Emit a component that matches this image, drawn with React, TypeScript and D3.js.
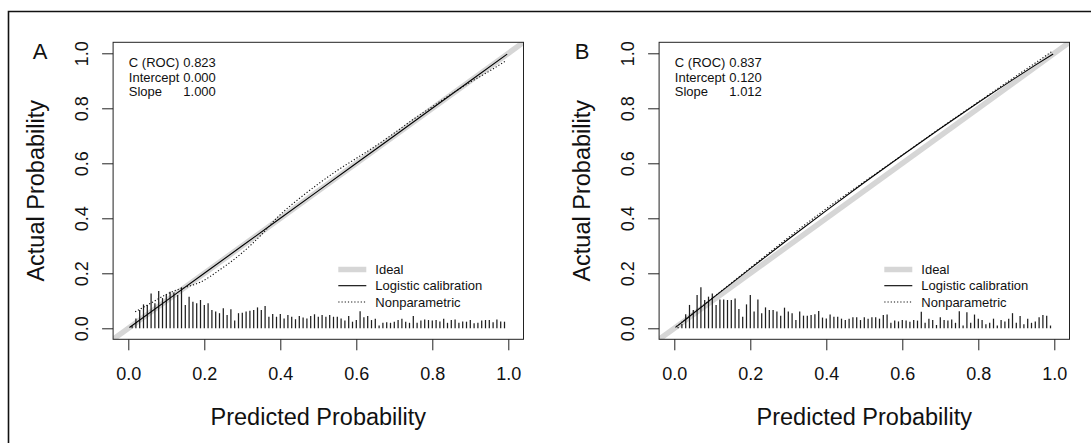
import React, { useEffect, useRef } from "react";
import * as d3 from "d3";

// axis ticks and text
const tickValues = [0, 0.2, 0.4, 0.6, 0.8, 1.0];
const panelLabels = ["A", "B"];
const statNames = ["C (ROC)", "Intercept", "Slope"];
const statsA = ["0.823", "0.000", "1.000"];
const statsB = ["0.837", "0.120", "1.012"];
const legendNames = ["Ideal", "Logistic calibration", "Nonparametric"];

// logistic calibration curves (predicted -> actual)
const logisticAX = [0.003, 0.2, 0.4, 0.6, 0.8, 0.997];
const logisticAY = [0.003, 0.2, 0.4, 0.6, 0.8, 0.997];
const logisticBX = [0.003, 0.01, 0.05, 0.1, 0.2, 0.3, 0.4, 0.5, 0.6, 0.7, 0.8, 0.9, 0.95, 0.997];
const logisticBY = [0.0032, 0.0107, 0.0542, 0.1087, 0.217, 0.3236, 0.428, 0.53, 0.6295, 0.7265, 0.821, 0.9124, 0.9569, 0.9975];

// nonparametric (loess) curves
const npAX = [0.018, 0.06, 0.1, 0.13, 0.155, 0.19, 0.24, 0.3, 0.35, 0.39, 0.45, 0.5, 0.55, 0.6, 0.64, 0.7, 0.75, 0.8, 0.85, 0.9, 0.95, 0.995];
const npAY = [0.06, 0.092, 0.123, 0.141, 0.151, 0.168, 0.212, 0.275, 0.34, 0.4, 0.472, 0.525, 0.574, 0.618, 0.653, 0.71, 0.76, 0.806, 0.852, 0.895, 0.935, 0.974];
const npBX = [0.005, 0.05, 0.1, 0.2, 0.3, 0.4, 0.5, 0.6, 0.7, 0.8, 0.9, 0.95, 0.993];
const npBY = [0.006, 0.055, 0.11, 0.22, 0.33, 0.435, 0.533, 0.63, 0.728, 0.823, 0.918, 0.965, 1.006];

// spike histogram of predictions, bins 0.01 .. 0.99
const spikeBins = d3.range(1, 100).map((i) => i / 100);
const spikesA = [
  0.008, 0.036, 0.067, 0.087, 0.085, 0.127, 0.091, 0.136, 0.11, 0.124,
  0.133, 0.13, 0.121, 0.149, 0.085, 0.115, 0.097, 0.091, 0.103, 0.085,
  0.091, 0.067, 0.061, 0.055, 0.073, 0.048, 0.069, 0.028, 0.055, 0.057,
  0.061, 0.064, 0.067, 0.076, 0.067, 0.081, 0.042, 0.052, 0.042, 0.052,
  0.036, 0.048, 0.042, 0.033, 0.045, 0.039, 0.036, 0.045, 0.051, 0.042,
  0.048, 0.042, 0.048, 0.042, 0.042, 0.036, 0.028, 0.045, 0.024, 0.03,
  0.062, 0.04, 0.045, 0.03, 0.035, 0.01, 0.02, 0.022, 0.02, 0.024,
  0.03, 0.035, 0.024, 0.02, 0.045, 0.02, 0.028, 0.032, 0.03, 0.028,
  0.03, 0.025, 0.035, 0.02, 0.03, 0.032, 0.02, 0.025, 0.024, 0.03,
  0.018, 0.02, 0.028, 0.03, 0.03, 0.022, 0.032, 0.025, 0.024,
];
const spikesB = [
  0.005, 0.016, 0.051, 0.085, 0.067, 0.121, 0.149, 0.103, 0.115, 0.127,
  0.085, 0.105, 0.105, 0.103, 0.103, 0.108, 0.07, 0.042, 0.087, 0.121,
  0.061, 0.105, 0.055, 0.076, 0.067, 0.067, 0.061, 0.046, 0.075, 0.061,
  0.055, 0.03, 0.061, 0.046, 0.046, 0.048, 0.051, 0.063, 0.039, 0.036,
  0.05, 0.042, 0.042, 0.035, 0.03, 0.035, 0.04, 0.04, 0.03, 0.04,
  0.035, 0.04, 0.04, 0.035, 0.048, 0.05, 0.02, 0.028, 0.025, 0.03,
  0.028, 0.024, 0.03, 0.028, 0.06, 0.02, 0.035, 0.03, 0.012, 0.04,
  0.03, 0.028, 0.032, 0.02, 0.062, 0.01, 0.058, 0.02, 0.05, 0.035,
  0.03, 0.015, 0.02, 0.035, 0.01, 0.03, 0.025, 0.035, 0.055, 0.02,
  0.045, 0.015, 0.035, 0.02, 0.025, 0.04, 0.048, 0.046, 0.01,
];

const FONT = "'Liberation Sans', Arial, Helvetica, sans-serif";
const width = 1091;
const height = 443;

const panels = [
  { shift: 0, letterX: 40, label: panelLabels[0], stats: statsA, spikes: spikesA, lx: logisticAX, ly: logisticAY, nx: npAX, ny: npAY },
  { shift: 546, letterX: 582, label: panelLabels[1], stats: statsB, spikes: spikesB, lx: logisticBX, ly: logisticBY, nx: npBX, ny: npBY },
];

const App = () => {
  const ref = useRef<SVGSVGElement | null>(null);

  useEffect(() => {
    const svg = d3.select(ref.current);
    svg.selectAll("*").remove();

    // outer frame
    svg
      .append("path")
      .attr("d", `M8.5,${height + 5} V11.5 H${width + 5}`)
      .attr("fill", "none")
      .attr("stroke", "#111")
      .attr("stroke-width", 1.6);

    panels.forEach((p, pi) => {
      const x = d3.scaleLinear().domain([0, 1]).range([128.3 + p.shift, 508.3 + p.shift]);
      const y = d3.scaleLinear().domain([0, 1]).range([328.3, 53.3]);
      const g = svg.append("g");

      const clipId = `clip-${pi}`;
      g.append("clipPath")
        .attr("id", clipId)
        .append("rect")
        .attr("x", x(-0.04))
        .attr("y", y(1.04))
        .attr("width", x(1.04) - x(-0.04))
        .attr("height", y(-0.04) - y(1.04));

      // ideal line
      g.append("line")
        .attr("clip-path", `url(#${clipId})`)
        .attr("x1", x(-0.04))
        .attr("y1", y(-0.04))
        .attr("x2", x(1.04))
        .attr("y2", y(1.04))
        .attr("stroke", "#d6d6d6")
        .attr("stroke-width", 5.5);

      // spikes
      g.selectAll(".spike")
        .data(spikeBins)
        .enter()
        .append("line")
        .attr("class", "spike")
        .attr("x1", (d) => x(d))
        .attr("x2", (d) => x(d))
        .attr("y1", y(0))
        .attr("y2", (d, i) => y(p.spikes[i]))
        .attr("stroke", "#1e1e1e")
        .attr("stroke-width", 1.25);

      const line = d3
        .line<number>()
        .x((d) => d[0])
        .y((d) => d[1])
        .curve(d3.curveMonotoneX);

      const logPts = p.lx.map((v, i) => [x(v), y(p.ly[i])]);
      const npPts = p.nx.map((v, i) => [x(v), y(p.ny[i])]);

      g.append("path")
        .attr("d", line(logPts as any))
        .attr("fill", "none")
        .attr("stroke", "#000")
        .attr("stroke-width", 1.1);

      g.append("path")
        .attr("d", line(npPts as any))
        .attr("fill", "none")
        .attr("stroke", "#111")
        .attr("stroke-width", 1.1)
        .attr("stroke-dasharray", "1.2,2");

      // plot box
      g.append("rect")
        .attr("x", x(-0.04))
        .attr("y", y(1.04))
        .attr("width", x(1.04) - x(-0.04))
        .attr("height", y(-0.04) - y(1.04))
        .attr("fill", "none")
        .attr("stroke", "#222")
        .attr("stroke-width", 1);

      // x axis
      const xAxis = d3.axisBottom(x).tickValues(tickValues).tickSize(11).tickFormat(d3.format(".1f"));
      const xg = g
        .append("g")
        .attr("transform", `translate(0,${y(-0.04)})`)
        .call(xAxis)
        .attr("font-size", 18)
        .attr("font-family", FONT);
      xg.select(".domain").remove();
      xg.selectAll(".tick line").attr("stroke", "#222");
      xg.selectAll(".tick text").attr("fill", "#111").attr("y", 34).attr("dy", "0.35em");

      // y axis
      const yAxis = d3.axisLeft(y).tickValues(tickValues).tickSize(11).tickFormat(d3.format(".1f"));
      const yg = g
        .append("g")
        .attr("transform", `translate(${x(-0.04)},0)`)
        .call(yAxis)
        .attr("font-size", 18)
        .attr("font-family", FONT);
      yg.select(".domain").remove();
      yg.selectAll(".tick line").attr("stroke", "#222");
      yg.selectAll(".tick text")
        .attr("fill", "#111")
        .attr("x", 0)
        .attr("y", 0)
        .attr("dy", "0.35em")
        .attr("text-anchor", "middle")
        .attr("transform", "translate(-31,0) rotate(-90)");

      // axis titles
      g.append("text")
        .attr("x", x(0.5))
        .attr("y", 417)
        .attr("dy", "0.35em")
        .attr("text-anchor", "middle")
        .attr("font-family", FONT)
        .attr("font-size", 23.5)
        .attr("fill", "#111")
        .text("Predicted Probability");

      g.append("text")
        .attr("transform", `translate(${35.7 + p.shift},${y(0.5)}) rotate(-90)`)
        .attr("dy", "0.35em")
        .attr("text-anchor", "middle")
        .attr("font-family", FONT)
        .attr("font-size", 23.5)
        .attr("fill", "#111")
        .text("Actual Probability");

      // panel letter
      g.append("text")
        .attr("x", p.letterX)
        .attr("y", 51.7)
        .attr("dy", "0.35em")
        .attr("text-anchor", "middle")
        .attr("font-family", FONT)
        .attr("font-size", 22)
        .attr("fill", "#111")
        .text(p.label);

      // stats block
      const rowY = [62.3, 77, 91.7];
      statNames.forEach((name, i) => {
        g.append("text")
          .attr("x", x(0) + 0.5)
          .attr("y", rowY[i])
          .attr("dy", "0.35em")
          .attr("font-family", FONT)
          .attr("font-size", 13)
          .attr("fill", "#111")
          .text(name);
        g.append("text")
          .attr("x", x(0) + 55)
          .attr("y", rowY[i])
          .attr("dy", "0.35em")
          .attr("font-family", FONT)
          .attr("font-size", 13)
          .attr("fill", "#111")
          .text(p.stats[i]);
      });

      // legend
      const legY = [269.5, 285.7, 302];
      const legStyles = [
        { stroke: "#d6d6d6", w: 5.5, dash: null },
        { stroke: "#000", w: 1.1, dash: null },
        { stroke: "#111", w: 1.1, dash: "1.2,2" },
      ];
      legendNames.forEach((name, i) => {
        g.append("line")
          .attr("x1", x(0) + 210)
          .attr("x2", x(0) + 238)
          .attr("y1", legY[i])
          .attr("y2", legY[i])
          .attr("stroke", legStyles[i].stroke)
          .attr("stroke-width", legStyles[i].w)
          .attr("stroke-dasharray", legStyles[i].dash);
        g.append("text")
          .attr("x", x(0) + 247)
          .attr("y", legY[i])
          .attr("dy", "0.35em")
          .attr("font-family", FONT)
          .attr("font-size", 13)
          .attr("fill", "#111")
          .text(name);
      });
    });
  }, []);

  return (
    <svg
      ref={ref}
      width={width}
      height={height}
      style={{ position: "absolute", left: 0, top: 0, background: "#fff" }}
    ></svg>
  );
};

export default App;
